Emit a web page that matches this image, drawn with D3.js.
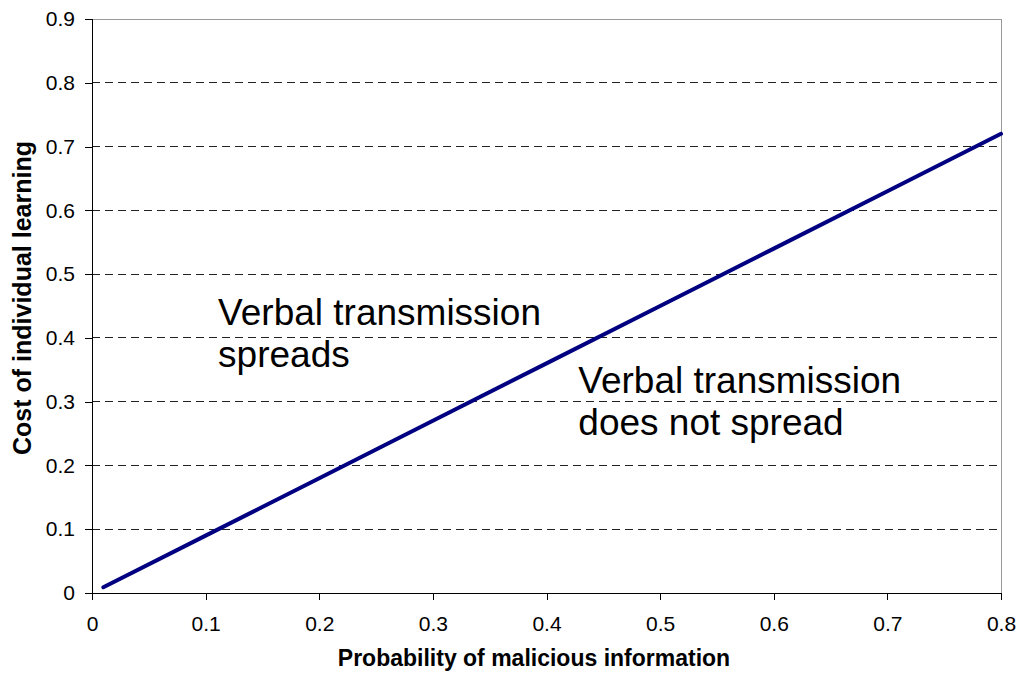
<!DOCTYPE html>
<html><head><meta charset="utf-8">
<script src="https://cdn.jsdelivr.net/npm/d3@7"></script>
<style>body{margin:0;background:#fff}svg{display:block;font-family:"Liberation Sans",Arial,sans-serif}</style>
</head><body>
<svg id="c" width="1019" height="680"></svg>
<script>
const xValues = [0.01, 0.1, 0.2, 0.3, 0.4, 0.5, 0.6, 0.7, 0.8];
const yValues = [0.009, 0.09, 0.18, 0.27, 0.36, 0.45, 0.54, 0.63, 0.72];
const xTicks = [0, 0.1, 0.2, 0.3, 0.4, 0.5, 0.6, 0.7, 0.8];
const yTicks = [0, 0.1, 0.2, 0.3, 0.4, 0.5, 0.6, 0.7, 0.8, 0.9];
const xTitle = "Probability of malicious information";
const yTitle = "Cost of individual learning";
const labels = [
  {x: 0.111, y: 0.42, lines: ["Verbal transmission", "spreads"]},
  {x: 0.428, y: 0.314, lines: ["Verbal transmission", "does not spread"]}
];

const svg = d3.select("#c");
const L = 92, R = 1001, T = 19, B = 593;
const x = d3.scaleLinear().domain([0, 0.8]).range([L, R]);
const y = d3.scaleLinear().domain([0, 0.9]).range([B, T]);

// gridlines
svg.append("g").selectAll("line").data(yTicks.filter(d => d > 0 && d < 0.9)).join("line")
  .attr("x1", L).attr("x2", R).attr("y1", d => y(d)).attr("y2", d => y(d))
  .attr("stroke", "#222").attr("stroke-width", 1).attr("stroke-dasharray", "8,5")
  .attr("shape-rendering", "crispEdges");

// plot border top/right
svg.append("line").attr("x1", L).attr("x2", R).attr("y1", T).attr("y2", T)
  .attr("stroke", "#999").attr("shape-rendering", "crispEdges");
svg.append("line").attr("x1", R).attr("x2", R).attr("y1", T).attr("y2", B)
  .attr("stroke", "#999").attr("shape-rendering", "crispEdges");

// axes
const fmt = d => d === 0 ? "0" : d3.format(".1f")(d);
const yAxis = d3.axisLeft(y).tickValues(yTicks).tickFormat(fmt).tickSize(7).tickPadding(10);
const gy = svg.append("g").attr("transform", `translate(${L},0)`).call(yAxis);
const xAxis = d3.axisBottom(x).tickValues(xTicks).tickFormat(fmt).tickSize(7).tickPadding(16);
const gx = svg.append("g").attr("transform", `translate(0,${B})`).call(xAxis);
[gx, gy].forEach(g => {
  g.attr("font-size", 21).attr("font-family", "Liberation Sans, Arial, sans-serif");
  g.select(".domain").attr("stroke", "#000").attr("shape-rendering", "crispEdges");
  g.selectAll(".tick line").attr("stroke", "#000").attr("shape-rendering", "crispEdges");
  g.selectAll("text").attr("fill", "#000");
});
gx.select(".domain").attr("d", `M${L},0H${R}`);
gy.select(".domain").attr("d", `M0,${B}V${T}`);

// line
const pts = xValues.map((v, i) => [v, yValues[i]]);
svg.append("path").datum(pts)
  .attr("d", d3.line().x(d => x(d[0])).y(d => y(d[1])))
  .attr("fill", "none").attr("stroke", "#000080").attr("stroke-width", 4)
  .attr("stroke-linecap", "round");

// annotations
labels.forEach(l => {
  const t = svg.append("text").attr("x", x(l.x)).attr("y", y(l.y))
    .attr("font-size", 37).attr("fill", "#000");
  l.lines.forEach((s, i) => t.append("tspan").attr("x", x(l.x)).attr("dy", i === 0 ? 0 : 42).text(s));
});

// titles
svg.append("text").attr("x", 534).attr("y", 666).attr("text-anchor", "middle")
  .attr("font-size", 23).attr("font-weight", "bold").attr("fill", "#000").text(xTitle);
svg.append("text").attr("transform", `translate(31,298) rotate(-90)`).attr("text-anchor", "middle")
  .attr("font-size", 25).attr("font-weight", "bold").attr("fill", "#000").text(yTitle);
</script>
</body></html>
